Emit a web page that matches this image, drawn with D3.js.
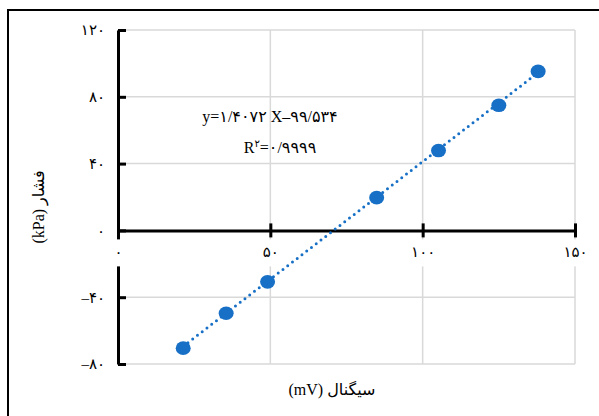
<!DOCTYPE html>
<html>
<head>
<meta charset="utf-8">
<script src="https://cdn.jsdelivr.net/npm/d3@7"></script>
<style>
  body { margin: 0; background: #fff; }
  text { font-family: "Liberation Serif", "DejaVu Sans", serif; fill: #000; }
</style>
</head>
<body>
<div id="chart"></div>
<script>
// measured points (signal mV, pressure kPa)
var signal = [21.4, 35.5, 49.1, 84.9, 105.2, 125.0, 137.9];
var pressure = [-70.5, -49.6, -30.8, 19.6, 47.8, 74.9, 95.2];

// linear fit shown on the chart
var slope = 1.4072, intercept = -99.534;

var xTicks = [0, 50, 100, 150];
var xTickLabels = ["۰", "۵۰", "۱۰۰", "۱۵۰"];
var yTicks = [-80, -40, 0, 40, 80, 120];
var yTickLabels = ["–۸۰", "–۴۰", "۰", "۴۰", "۸۰", "۱۲۰"];

var eqLine = "y=۱/۴۰۷۲ X–۹۹/۵۳۴";
var xTitle = "(mV) سیگنال";
var yTitle = "(kPa) فشار";

var W = 599, H = 416;
var blue = "#1770c6";

var svg = d3.select("#chart").append("svg")
    .attr("width", W)
    .attr("height", H);

// outer frame, runs off the right and bottom edge
svg.append("rect")
    .attr("x", 8).attr("y", 10)
    .attr("width", 620).attr("height", 430)
    .attr("fill", "none")
    .attr("stroke", "#000")
    .attr("stroke-width", 2);

var x = d3.scaleLinear().domain([0, 150]).range([118, 575]);
var y = d3.scaleLinear().domain([-80, 120]).range([364, 30]);

// gridlines
svg.append("g").selectAll("line")
    .data(yTicks)
    .enter().append("line")
    .attr("x1", x(0)).attr("x2", x(150))
    .attr("y1", d => y(d)).attr("y2", d => y(d))
    .attr("stroke", "#d9d9d9")
    .attr("stroke-width", 1.5);

svg.append("g").selectAll("line")
    .data(xTicks.slice(1))
    .enter().append("line")
    .attr("y1", y(-80)).attr("y2", y(120))
    .attr("x1", d => x(d)).attr("x2", d => x(d))
    .attr("stroke", "#d9d9d9")
    .attr("stroke-width", 1.5);

// y axis
var yAxis = d3.axisLeft(y)
    .tickValues(yTicks)
    .tickFormat((d, i) => yTickLabels[i])
    .tickSizeInner(-8)
    .tickSizeOuter(0)
    .tickPadding(13);

var gy = svg.append("g")
    .attr("transform", `translate(${x(0)},0)`)
    .call(yAxis);
gy.select(".domain").attr("stroke", "#000").attr("stroke-width", 3);
gy.selectAll(".tick line").attr("stroke", "#000").attr("stroke-width", 3);
gy.selectAll(".tick text")
    .attr("font-size", 15)
    .attr("font-family", "'Liberation Serif', 'DejaVu Sans', serif");

// x axis
var xAxis = d3.axisBottom(x)
    .tickValues(xTicks)
    .tickFormat((d, i) => xTickLabels[i])
    .tickSizeInner(7)
    .tickSizeOuter(0);

var gx = svg.append("g")
    .attr("transform", `translate(0,${y(0)})`)
    .call(xAxis);
gx.select(".domain").attr("stroke", "#000").attr("stroke-width", 3);
gx.selectAll(".tick line")
    .attr("y1", -7).attr("y2", 7)
    .attr("stroke", "#000").attr("stroke-width", 3);
// label boxes hide the y axis and gridlines behind them
gx.selectAll(".tick").insert("rect", "text")
    .attr("x", -16).attr("y", 9)
    .attr("width", 32).attr("height", 27)
    .attr("fill", "#fff");
gx.selectAll(".tick text")
    .attr("y", 27).attr("dy", null)
    .attr("font-size", 15)
    .attr("font-family", "'Liberation Serif', 'DejaVu Sans', serif");

// trendline
var trend = [d3.min(signal), d3.max(signal)];
svg.append("line")
    .attr("x1", x(trend[0])).attr("y1", y(slope * trend[0] + intercept))
    .attr("x2", x(trend[1])).attr("y2", y(slope * trend[1] + intercept))
    .attr("stroke", blue)
    .attr("stroke-width", 3)
    .attr("stroke-linecap", "round")
    .attr("stroke-dasharray", "0 6");

// markers
svg.append("g").selectAll("ellipse")
    .data(signal)
    .enter().append("ellipse")
    .attr("cx", d => x(d))
    .attr("cy", (d, i) => y(pressure[i]))
    .attr("rx", 7.5).attr("ry", 6.8)
    .attr("fill", blue);

// equation
svg.append("text")
    .attr("x", 270).attr("y", 122)
    .attr("text-anchor", "middle")
    .attr("font-size", 16)
    .text(eqLine);

var r2 = svg.append("text")
    .attr("x", 280).attr("y", 153)
    .attr("text-anchor", "middle")
    .attr("font-size", 16);
r2.append("tspan").text("R");
r2.append("tspan").attr("font-size", 10).attr("dy", -6).text("۲");
r2.append("tspan").attr("dy", 6).text("=۰/۹۹۹۹");

// axis titles
svg.append("text")
    .attr("x", 332).attr("y", 395)
    .attr("text-anchor", "middle")
    .attr("font-size", 16)
    .text(xTitle);

svg.append("text")
    .attr("transform", "translate(44,207) rotate(-90)")
    .attr("text-anchor", "middle")
    .attr("font-size", 16)
    .text(yTitle);
</script>
</body>
</html>
